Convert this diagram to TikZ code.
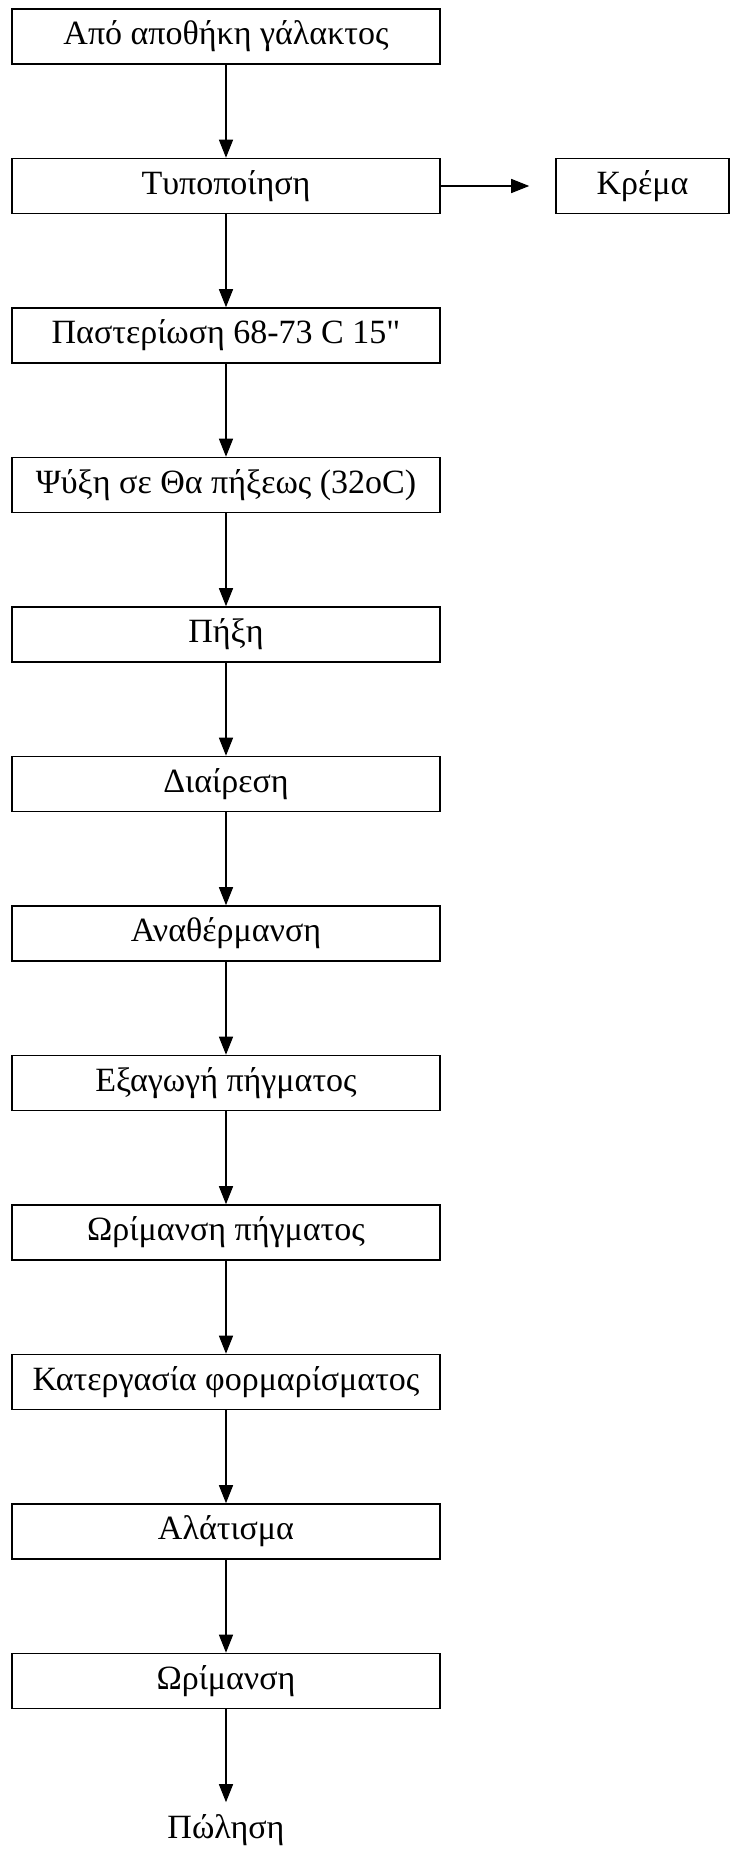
\documentclass[tikz,border=0pt]{standalone}
\usepackage{fontspec}
\setmainfont{Liberation Serif}
\usetikzlibrary{arrows.meta}

\begin{document}
\begin{tikzpicture}
[
x=0.5pt, y=-0.5pt,
>={Triangle[length=9pt,width=7pt]},
stage/.style={rectangle, draw=black, line width=0.8pt, minimum width=214pt, minimum height=27.5pt, inner sep=0pt, font=\fontsize{17}{20}\selectfont, node distance=74.75pt},
side/.style={stage, minimum width=86.5pt, node distance=208.25pt},
last/.style={stage, draw=none}
]
\fill[white] (0,0) rectangle (731,1851);
\useasboundingbox (0,0) rectangle (731,1851);
%Nodes
\node[stage]    (milk)   at (226,36.5)          {Από αποθήκη γάλακτος};
\node[stage]    (std)    [below of=milk]        {Τυποποίηση};
\node[side]     (cream)  [right of=std]         {Κρέμα};
\node[stage]    (past)   [below of=std]         {Παστερίωση 68-73 C 15\textquotedbl};
\node[stage]    (cool)   [below of=past]        {Ψύξη σε Θα πήξεως (32oC)};
\node[stage]    (coag)   [below of=cool]        {Πήξη};
\node[stage]    (cut)    [below of=coag]        {Διαίρεση};
\node[stage]    (heat)   [below of=cut]         {Αναθέρμανση};
\node[stage]    (drain)  [below of=heat]        {Εξαγωγή πήγματος};
\node[stage]    (ripen)  [below of=drain]       {Ωρίμανση πήγματος};
\node[stage]    (mill)   [below of=ripen]       {Κατεργασία φορμαρίσματος};
\node[stage]    (salt)   [below of=mill]        {Αλάτισμα};
\node[stage]    (mature) [below of=salt]        {Ωρίμανση};
\node[last]     (sale)   [below of=mature]      {Πώληση};

%Lines
\path[->, line width=0.75pt]
          (milk)    edge                    (std)
          (std)     edge[shorten >=13pt]    (cream)
          (std)     edge                    (past)
          (past)    edge                    (cool)
          (cool)    edge                    (coag)
          (coag)    edge                    (cut)
          (cut)     edge                    (heat)
          (heat)    edge                    (drain)
          (drain)   edge                    (ripen)
          (ripen)   edge                    (mill)
          (mill)    edge                    (salt)
          (salt)    edge                    (mature)
          (mature)  edge                    (sale);

\end{tikzpicture}
\end{document}
